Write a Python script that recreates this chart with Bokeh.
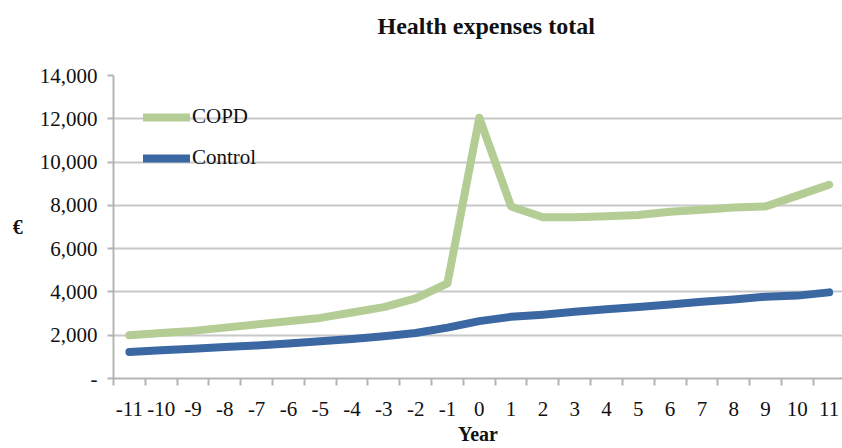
from bokeh.plotting import figure
from bokeh.models import FixedTicker, Range1d, NumeralTickFormatter, Legend, LegendItem, Title
from bokeh.embed import file_html
from bokeh.resources import INLINE

years = list(range(-11, 12))
copd = [2000, 2100, 2200, 2350, 2500, 2650, 2800, 3050, 3300, 3700, 4400,
        12050, 7950, 7450, 7450, 7500, 7550, 7700, 7800, 7900, 7950, 8450, 8950]
control = [1220, 1300, 1380, 1450, 1530, 1620, 1720, 1820, 1950, 2100, 2350,
           2650, 2850, 2950, 3080, 3200, 3300, 3420, 3550, 3650, 3780, 3830, 3980]
y_ticks = [0, 2000, 4000, 6000, 8000, 10000, 12000, 14000]
x_labels = {y: str(y) for y in years}
title_text = "Health expenses total"

FONT = "Liberation Serif"

p = figure(width=842, height=448, output_backend="svg", toolbar_location=None, title=None,
           x_range=Range1d(-11.5, 11.42), y_range=Range1d(0, 14000),
           min_border_left=113, min_border_right=0, min_border_top=75, min_border_bottom=70)
p.frame_width = 729
p.frame_height = 303

# spacer between title and frame, then the real title stacked above it
p.add_layout(Title(text=" ", text_font=FONT, text_font_size="10px", standoff=15), "above")
p.add_layout(Title(text=title_text, align="left", offset=264,
                   text_font=FONT, text_font_size="24px", text_font_style="bold",
                   text_color="#111111", standoff=18), "above")

p.outline_line_color = None
p.background_fill_color = "white"
p.border_fill_color = "white"

# grid
p.xgrid.grid_line_color = None
p.ygrid.ticker = FixedTicker(ticks=y_ticks)
p.ygrid.grid_line_color = "#c8c8c8"
p.ygrid.grid_line_width = 2

# y axis
ya = p.yaxis[0]
ya.ticker = FixedTicker(ticks=y_ticks)
ya.formatter = NumeralTickFormatter(format="0,0")
ya.major_label_overrides = {0: "-"}
ya.major_label_text_font = FONT
ya.major_label_text_font_size = "21px"
ya.major_label_text_color = "#111111"
ya.major_label_standoff = 10
ya.axis_line_color = "#b4b4b4"
ya.axis_line_width = 2
ya.major_tick_line_color = "#b4b4b4"
ya.major_tick_line_width = 2
ya.major_tick_out = 6
ya.major_tick_in = 0
ya.minor_tick_line_color = None
ya.axis_label = "€"
ya.axis_label_text_font = FONT
ya.axis_label_text_font_size = "20px"
ya.axis_label_text_font_style = "bold"
ya.axis_label_text_color = "#111111"
ya.axis_label_standoff = 14
if "axis_label_orientation" in ya.properties():
    ya.axis_label_orientation = "horizontal"

# x axis
xa = p.xaxis[0]
xa.ticker = FixedTicker(ticks=years, minor_ticks=[y - 0.5 for y in years] + [11.5])
xa.major_label_overrides = x_labels
xa.major_tick_line_color = None
xa.major_tick_out = 0
xa.major_tick_in = 0
xa.minor_tick_line_color = "#b4b4b4"
xa.minor_tick_line_width = 2
xa.minor_tick_out = 7
xa.minor_tick_in = 0
xa.axis_line_color = "#b4b4b4"
xa.axis_line_width = 2
xa.major_label_text_font = FONT
xa.major_label_text_font_size = "21px"
xa.major_label_text_color = "#111111"
xa.major_label_standoff = 16
xa.axis_label = "Year"
xa.axis_label_text_font = FONT
xa.axis_label_text_font_size = "20px"
xa.axis_label_text_font_style = "bold"
xa.axis_label_text_color = "#111111"
xa.axis_label_standoff = 4

r1 = p.line(years, copd, line_color="#b3cd94", line_width=8, line_cap="round", line_join="round")
r2 = p.line(years, control, line_color="#3b67a3", line_width=8, line_cap="round", line_join="round")

legend = Legend(items=[LegendItem(label="COPD", renderers=[r1]),
                       LegendItem(label="Control", renderers=[r2])],
                location=(30, 208))
legend.background_fill_alpha = 0
legend.border_line_color = None
legend.padding = 0
legend.margin = 0
legend.spacing = 16
legend.glyph_width = 47
legend.glyph_height = 24
legend.label_height = 24
legend.label_standoff = 2
legend.label_text_font = FONT
legend.label_text_font_size = "21px"
legend.label_text_color = "#111111"
p.add_layout(legend)

open("out.html", "w").write(file_html(p, INLINE))
